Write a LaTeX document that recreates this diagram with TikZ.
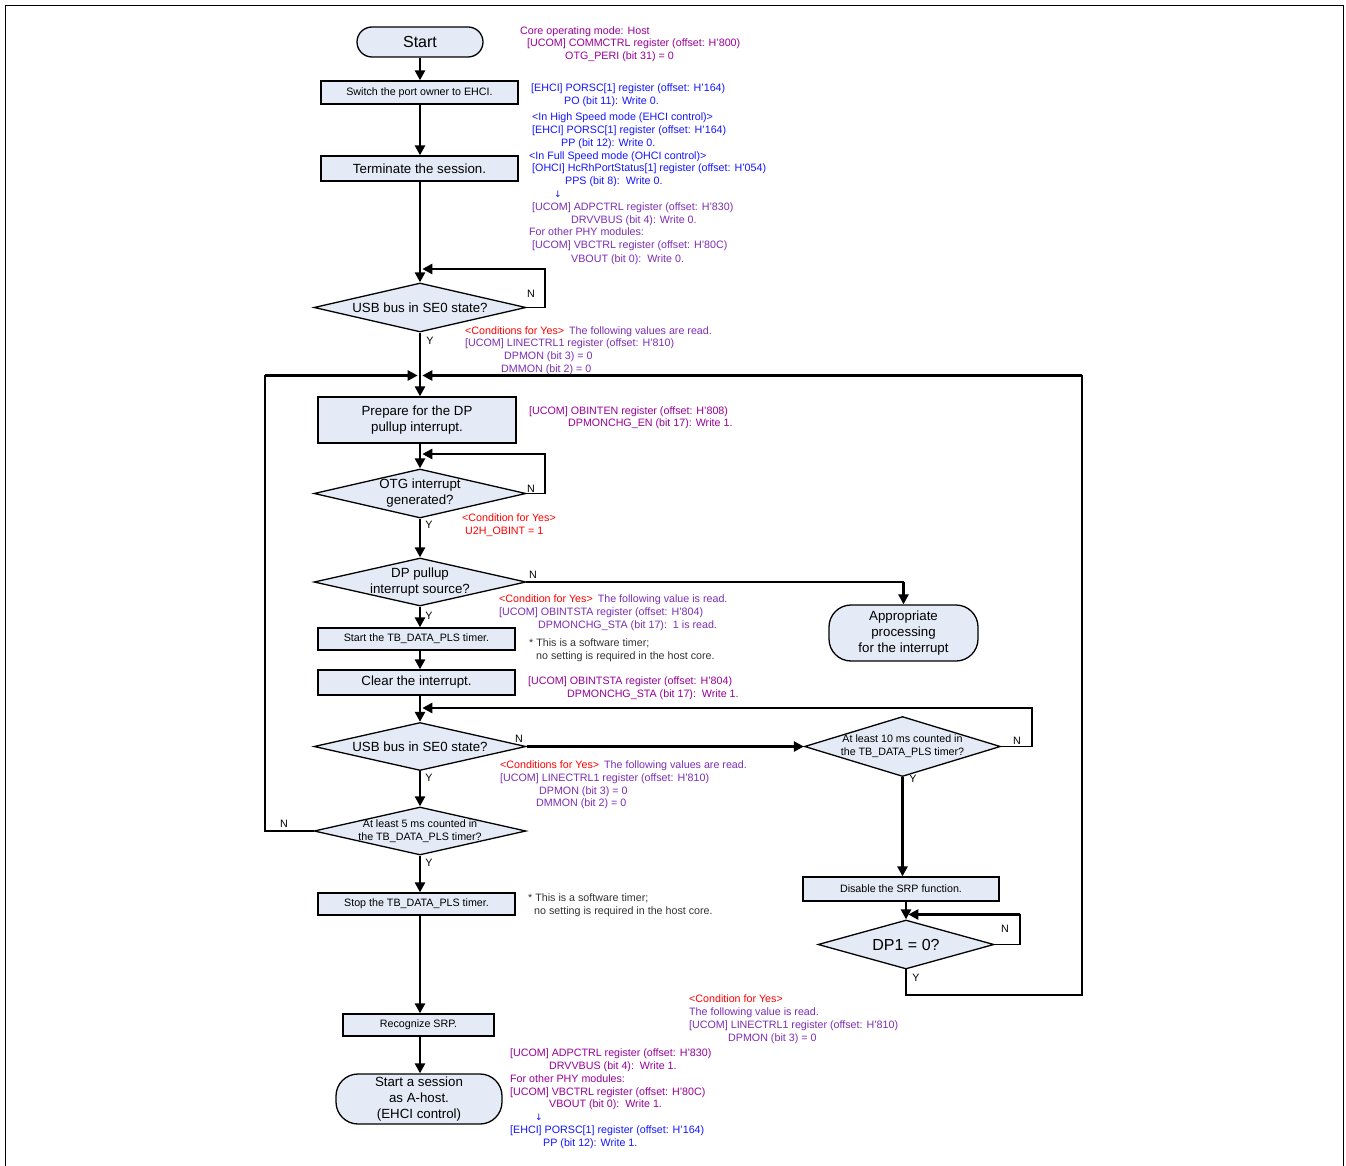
\documentclass[tikz,border=0pt]{standalone}
\usepackage{fontspec}
\setmainfont{Liberation Sans}
\newfontfamily\dvs{DejaVu Sans}
\usetikzlibrary{arrows.meta,shapes.geometric}
\definecolor{nfill}{RGB}{228,235,246}
\definecolor{cmag}{RGB}{153,0,153}
\definecolor{cvio}{RGB}{125,45,180}
\definecolor{cblue}{RGB}{20,20,255}
\definecolor{cred}{RGB}{255,0,0}
\definecolor{cgray}{RGB}{50,50,50}
\newcommand\fsS{\fontsize{10.7}{12.8}\selectfont}
\newcommand\fsM{\fontsize{13.3}{16}\selectfont}
\newcommand\fsL{\fontsize{16}{19}\selectfont}
\newcommand\zw[1]{\makebox[0pt]{#1}}
\begin{document}
\begin{tikzpicture}[x=1pt,y=-1pt,
 box/.style={draw, line width=1.3pt, fill=nfill, inner sep=0pt, align=center},
 dia/.style={diamond, draw, line width=1.3pt, fill=nfill, inner sep=0pt, aspect=4, align=center},
 arr/.style={line width=2.6pt, -{Triangle[length=10pt,width=10pt]}},
 thinl/.style={line width=1.6pt, line cap=rect},
 ann/.style={anchor=base west, inner sep=0pt, font=\fsS, yshift=-1pt},
 yn/.style={inner sep=0pt, font=\fsS},
 dtxt/.style={text depth=0pt}
]
\useasboundingbox (0,0) rectangle (1346,1166);
\draw[line width=1.8pt] (5.5,1170) -- (5.5,5.5) -- (1343.5,5.5) -- (1343.5,1170);
\coordinate (mx) at (420,0);

% ---- nodes
\node[box, rounded corners=15, minimum width=126, minimum height=30, font=\fsL] (start) at (420,42) {Start};
\node[box, minimum width=197, minimum height=23, font=\fsS] (sw) at (419.5,92.5) {Switch the port owner to EHCI.};
\node[box, minimum width=197, minimum height=25, font=\fsM] (term) at (419.5,168.5) {Terminate the session.};
\node[dia, minimum width=212, minimum height=49, font=\fsM] (d1) at (420,307.5) {\zw{USB bus in SE0 state?}};
\node[box, minimum width=198, minimum height=46, font=\fsM] (prep) at (417,420) {Prepare for the DP\\pullup interrupt.};
\node[dia, minimum width=212, minimum height=49, font=\fsM] (d2) at (420,493.5) {\zw{OTG interrupt}\\\zw{generated?}};
\node[dia, minimum width=212, minimum height=48, font=\fsM] (d3) at (420,582) {\zw{DP pullup}\\\zw{interrupt source?}};
\node[box, rounded corners=22, minimum width=149, minimum height=56, font=\fsM] (appr) at (903.5,633) {Appropriate\\processing\\for the interrupt};
\node[box, minimum width=197, minimum height=22, font=\fsS] (stb) at (416.5,639) {Start the TB\_DATA\_PLS timer.};
\node[box, minimum width=197, minimum height=25, font=\fsM] (clr) at (416.5,682.5) {Clear the interrupt.};
\node[dia, minimum width=212, minimum height=48, font=\fsM] (d4) at (420,746.5) {\zw{USB bus in SE0 state?}};
\node[dia, minimum width=196, minimum height=60, font=\fsS] (d6) at (902.5,746.5) {\zw{At least 10 ms counted in}\\\zw{the TB\_DATA\_PLS timer?}};
\node[dia, minimum width=212, minimum height=48, font=\fsS] (d5) at (420,831) {\zw{At least 5 ms counted in}\\\zw{the TB\_DATA\_PLS timer?}};
\node[box, minimum width=197, minimum height=22, font=\fsS] (stop) at (416.5,904) {Stop the TB\_DATA\_PLS timer.};
\node[box, minimum width=196, minimum height=24, font=\fsS] (dis) at (901,889) {Disable the SRP function.};
\node[dia, minimum width=176, minimum height=49, font=\fsL] (d7) at (906,944.5) {\zw{DP1 = 0?}};
\node[box, minimum width=151, minimum height=22, font=\fsS] (rec) at (418.5,1025) {Recognize SRP.};
\node[box, rounded corners=22, minimum width=166, minimum height=50, font=\fsM] (sess) at (419,1099) {Start a session\\as A-host.\\(EHCI control)};

% ---- main line
\draw[arr] (start.south -| mx) -- (sw.north -| mx);
\draw[arr] (sw.south -| mx) -- (term.north -| mx);
\draw[arr] (term.south -| mx) -- (d1.north);
\draw[arr] (d1.south) -- (prep.north -| mx);
\draw[arr] (prep.south -| mx) -- (d2.north);
\draw[arr] (d2.south) -- (d3.north);
\draw[arr] (d3.south) -- (stb.north -| mx);
\draw[arr] (stb.south -| mx) -- (clr.north -| mx);
\draw[arr] (clr.south -| mx) -- (d4.north);
\draw[arr] (d4.south) -- (d5.north);
\draw[arr] (d5.south) -- (stop.north -| mx);
\draw[arr] (stop.south -| mx) -- (rec.north -| mx);
\draw[arr] (rec.south -| mx) -- (sess.north -| mx);

% ---- loops
\coordinate (k1) at (545,269); \coordinate (m1) at (422.3,269);
\draw[thinl] (d1.east) -| (k1); \draw[arr] (k1) -- (m1);
\coordinate (k2) at (545,454); \coordinate (m2) at (422.3,454);
\draw[thinl] (d2.east) -| (k2); \draw[arr] (k2) -- (m2);
\draw[thinl] (d3.east) -- (d3.east -| appr.north);
\draw[arr] (d3.east -| appr.north) -- (appr.north);
\draw[arr] (d4.east) -- (d6.west);
\coordinate (k4) at (1032,708); \coordinate (m4) at (422.3,708);
\draw[thinl] (d6.east) -| (k4); \draw[arr] (k4) -- (m4);
\draw[arr] (d6.south) -- (d6.south |- dis.north);
\draw[arr] (dis.south -| d7.north) -- (d7.north);
\coordinate (k7) at (1020,914.5); \coordinate (m7) at (908.3,914.5);
\draw[thinl] (d7.east) -| (k7); \draw[arr] (k7) -- (m7);
\coordinate (k8a) at (1082,995); \coordinate (k8b) at (1082,375.5); \coordinate (m8) at (422.3,375.5);
\draw[thinl] (d7.south) |- (k8a) -- (k8b); \draw[arr] (k8b) -- (m8);
\coordinate (k5) at (265,375.5); \coordinate (m5) at (417.7,375.5);
\draw[thinl] (d5.west) -| (k5); \draw[arr] (k5) -- (m5);

% ---- Y/N labels
\node[yn] (n1) at (531,294) {N};  \node[yn] (y1) at (430,341) {Y};
\node[yn] (n2) at (531,489) {N};  \node[yn] (y2) at (429,525) {Y};
\node[yn] (n3) at (533,575) {N};  \node[yn] (y3) at (429,616) {Y};
\node[yn] (n4) at (519,739) {N};  \node[yn] (y4) at (429,778) {Y};
\node[yn] (n5) at (284,824) {N};  \node[yn] (y5) at (429,863) {Y};
\node[yn] (n6) at (1017,741) {N}; \node[yn] (y6) at (913,779) {Y};
\node[yn] (n7) at (1005,929) {N}; \node[yn] (y7) at (916,978) {Y};

% ---- annotations
\node[ann, text=cmag] (a1) at (520,34) {Core operating mode: Host};
\node[ann, text=cmag] (a2) at (527,46) {[UCOM] COMMCTRL register (offset: H'800)};
\node[ann, text=cmag] (a3) at (565,59) {OTG\_PERI (bit 31) = 0};

\node[ann, text=cblue] (b1) at (531,91) {[EHCI] PORSC[1] register (offset: H'164)};
\node[ann, text=cblue] (b2) at (564,104) {PO (bit 11): Write 0.};
\node[ann, text=cblue] (b3) at (532,120) {<In High Speed mode (EHCI control)>};
\node[ann, text=cblue] (b4) at (532,133) {[EHCI] PORSC[1] register (offset: H'164)};
\node[ann, text=cblue] (b5) at (561,146) {PP (bit 12): Write 0.};
\node[ann, text=cblue] (b6) at (529,159) {<In Full Speed mode (OHCI control)>};
\node[ann, text=cblue] (b7) at (532,171) {[OHCI] HcRhPortStatus[1] register (offset: H'054)};
\node[ann, text=cblue] (b8) at (565,184) {PPS (bit 8):\ \ Write 0.};
\node[ann, text=cblue] (b9) at (554,197) {\dvs\fontsize{9}{10}\selectfont ↓};
\node[ann, text=cvio] (c1) at (532,210) {[UCOM] ADPCTRL register (offset: H'830)};
\node[ann, text=cvio] (c2) at (571,223) {DRVVBUS (bit 4): Write 0.};
\node[ann, text=cvio] (c3) at (529,235) {For other PHY modules:};
\node[ann, text=cvio] (c4) at (532,248) {[UCOM] VBCTRL register (offset: H'80C)};
\node[ann, text=cvio] (c5) at (571,261) {VBOUT (bit 0):\ \ Write 0.};

\node[ann, text=cvio] (e1) at (465,333) {\textcolor{cred}{<Conditions for Yes>}\hspace{5pt}The following values are read.};
\node[ann, text=cvio] (e2) at (465,345) {[UCOM] LINECTRL1 register (offset: H'810)};
\node[ann, text=cvio] (e3) at (504,358) {DPMON (bit 3) = 0};
\node[ann, text=cvio] (e4) at (501,371) {DMMON (bit 2) = 0};

\node[ann, text=cmag] (f1) at (529,413) {[UCOM] OBINTEN register (offset: H'808)};
\node[ann, text=cmag] (f2) at (568,425) {DPMONCHG\_EN (bit 17): Write 1.};

\node[ann, text=cred] (g1) at (462,520) {<Condition for Yes>};
\node[ann, text=cred] (g2) at (465,533) {U2H\_OBINT = 1};

\node[ann, text=cvio] (h1) at (499,601) {\textcolor{cred}{<Condition for Yes>}\hspace{5pt}The following value is read.};
\node[ann, text=cvio] (h2) at (499,614) {[UCOM] OBINTSTA register (offset: H'804)};
\node[ann, text=cvio] (h3) at (538,627) {DPMONCHG\_STA (bit 17):\ \ 1 is read.};

\node[ann, text=cgray] (i1) at (529,645) {* This is a software timer;};
\node[ann, text=cgray] (i2) at (536,658) {no setting is required in the host core.};

\node[ann, text=cmag] (j1) at (528,683) {[UCOM] OBINTSTA register (offset: H'804)};
\node[ann, text=cmag] (j2) at (567,696) {DPMONCHG\_STA (bit 17):\ \ Write 1.};

\node[ann, text=cvio] (l1) at (500,767) {\textcolor{cred}{<Conditions for Yes>}\hspace{5pt}The following values are read.};
\node[ann, text=cvio] (l2) at (500,780) {[UCOM] LINECTRL1 register (offset: H'810)};
\node[ann, text=cvio] (l3) at (539,793) {DPMON (bit 3) = 0};
\node[ann, text=cvio] (l4) at (536,805) {DMMON (bit 2) = 0};

\node[ann, text=cgray] (o1) at (528,900) {* This is a software timer;};
\node[ann, text=cgray] (o2) at (534,913) {no setting is required in the host core.};

\node[ann, text=cred] (p1) at (689,1001) {<Condition for Yes>};
\node[ann, text=cvio] (p2) at (689,1014) {The following value is read.};
\node[ann, text=cvio] (p3) at (689,1027) {[UCOM] LINECTRL1 register (offset: H'810)};
\node[ann, text=cvio] (p4) at (728,1040) {DPMON (bit 3) = 0};

\node[ann, text=cmag] (q1) at (510,1055) {[UCOM] ADPCTRL register (offset: H'830)};
\node[ann, text=cmag] (q2) at (549,1068) {DRVVBUS (bit 4):\ \ Write 1.};
\node[ann, text=cmag] (q3) at (510,1081) {For other PHY modules:};
\node[ann, text=cmag] (q4) at (510,1094) {[UCOM] VBCTRL register (offset: H'80C)};
\node[ann, text=cmag] (q5) at (549,1106) {VBOUT (bit 0):\ \ Write 1.};
\node[ann, text=cblue] (q6) at (535,1119) {\dvs\fontsize{9}{10}\selectfont ↓};
\node[ann, text=cblue] (q7) at (510,1132) {[EHCI] PORSC[1] register (offset: H'164)};
\node[ann, text=cblue] (q8) at (543,1145) {PP (bit 12): Write 1.};
\end{tikzpicture}
\end{document}
